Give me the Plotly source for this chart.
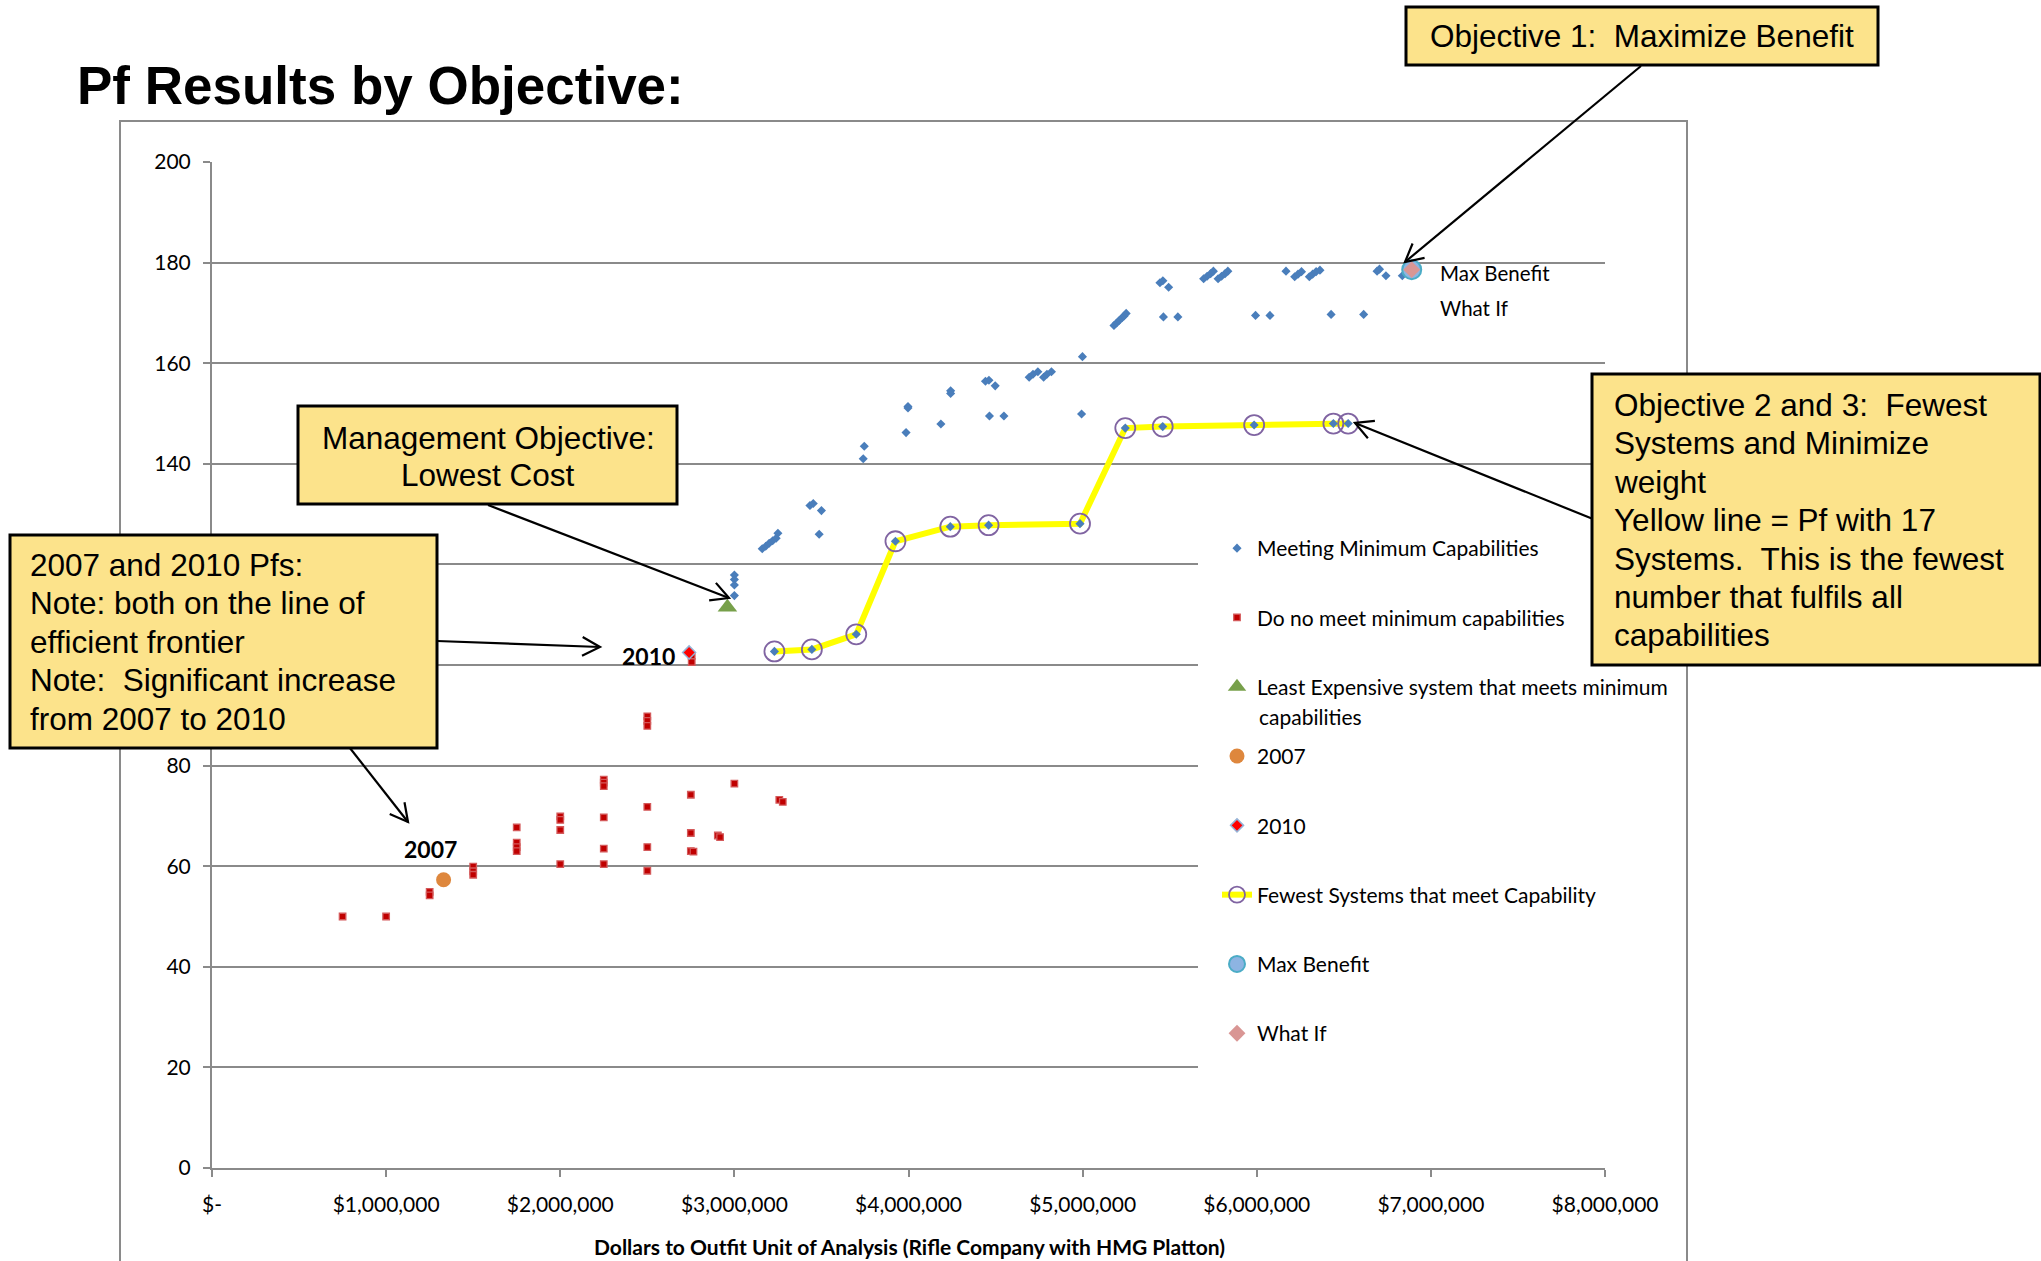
import math
import plotly.graph_objects as go

# ---------------- data ----------------
# Fewest systems that meet capability (yellow line, 17 systems)
FEWEST_X = [3230000, 3445000, 3700000, 3925000, 4240000, 4460000, 4985000,
            5245000, 5460000, 5985000, 6440000, 6525000]
FEWEST_Y = [102.7, 103.1, 106.1, 124.6, 127.5, 127.8, 128.1,
            147.1, 147.4, 147.7, 148.0, 148.0]

# Meeting minimum capabilities (other than those on the yellow line)
MEET_X = [3000000, 3000000, 3000000, 3000000,
          3160000, 3180000, 3200000, 3220000, 3240000, 3250000,
          3434000, 3453000, 3500000, 3487000,
          3746000, 3740000,
          3986000, 3997000, 3997000,
          4186000, 4242000, 4242000,
          4442000, 4462000, 4498000, 4465000, 4548000,
          4693000, 4715000, 4743000, 4776000, 4795000, 4821000,
          4999000, 4994000,
          5180000, 5195000, 5210000, 5225000, 5238000, 5250000,
          5444000, 5461000, 5494000, 5464000, 5547000,
          5695000, 5715000, 5735000, 5751000, 5778000, 5798000, 5818000, 5834000,
          5993000, 6076000,
          6168000, 6218000, 6237000, 6257000, 6302000, 6321000, 6341000, 6363000,
          6427000, 6614000,
          6691000, 6705000, 6742000, 6836000]
MEET_Y = [117.9, 117.0, 115.9, 113.8,
          123.1, 123.6, 124.2, 124.7, 125.2, 126.2,
          131.7, 132.1, 130.7, 126.0,
          143.5, 141.0,
          146.2, 151.4, 151.1,
          147.9, 154.5, 154.0,
          156.4, 156.6, 155.5, 149.5, 149.5,
          157.2, 157.8, 158.3, 157.2, 157.8, 158.3,
          161.3, 149.9,
          167.5, 168.0, 168.5, 169.0, 169.4, 169.9,
          176.0, 176.4, 175.1, 169.2, 169.2,
          176.8, 177.3, 177.8, 178.3, 176.8, 177.3, 177.8, 178.3,
          169.5, 169.5,
          178.3, 177.2, 177.7, 178.2, 177.2, 177.7, 178.2, 178.5,
          169.7, 169.7,
          178.3, 178.7, 177.4, 177.4]

# Do not meet minimum capabilities
NOMEET_X = [750000, 1000000, 1250000, 1250000,
            1500000, 1500000, 1500000,
            1750000, 1750000, 1750000, 1750000,
            2000000, 2000000, 2000000, 2000000,
            2250000, 2250000, 2250000, 2250000, 2250000, 2250000,
            2500000, 2500000, 2500000, 2500000, 2500000, 2500000,
            2750000, 2750000, 2750000, 2765000,
            2905000, 2918000, 3000000, 3258000, 3278000,
            2755000, 2755000]
NOMEET_Y = [50.0, 50.0, 54.9, 54.2,
            59.9, 59.0, 58.3,
            67.7, 64.7, 63.8, 63.0,
            69.9, 69.2, 67.2, 60.4,
            77.2, 76.6, 75.9, 69.7, 63.5, 60.4,
            89.8, 88.9, 87.9, 71.8, 63.8, 59.1,
            74.2, 66.6, 63.0, 62.9,
            66.1, 65.8, 76.4, 73.2, 72.8,
            101.8, 100.6]

LEAST_X, LEAST_Y = [2960000], [111.5]
Y2007_X, Y2007_Y = [1330000], [57.3]
Y2010_X, Y2010_Y = [2740000], [102.5]
MAXB_X, MAXB_Y = [6890000], [178.6]
WHATIF_X, WHATIF_Y = [6890000], [178.6]

X_TICKS = [0, 1000000, 2000000, 3000000, 4000000, 5000000, 6000000, 7000000, 8000000]
X_TICK_LABELS = ["$-", "$1,000,000", "$2,000,000", "$3,000,000", "$4,000,000",
                 "$5,000,000", "$6,000,000", "$7,000,000", "$8,000,000"]
Y_TICKS = [0, 20, 40, 60, 80, 100, 120, 140, 160, 180, 200]
# 100 and 120 are hidden behind the callout box in the original
Y_TICK_LABELS = ["0", "20", "40", "60", "80", "", "", "140", "160", "180", "200"]

# ---------------- layout geometry ----------------
W, H = 2041, 1261
L, R, T, B = 212, 436, 162, 93
PW, PH = W - L - R, H - T - B


def px(x):
    return (x - L) / PW


def py(y):
    return (H - B - y) / PH


CAL = "Lato, 'Open Sans', sans-serif"
ARI = "'Liberation Sans', Arial, sans-serif"
GRAY = "#8A8A8A"
BOXFILL = "#FCE38B"

fig = go.Figure()

fig.add_trace(go.Scatter(
    x=FEWEST_X, y=FEWEST_Y, mode="lines+markers",
    name="Fewest Systems that meet Capability",
    line=dict(color="#FFFF00", width=6),
    marker=dict(symbol="circle-open", size=20, color="#8064A2", line=dict(width=1.8)),
    legendrank=6, legendgroup="g6"))

fig.add_trace(go.Scatter(
    x=MEET_X + FEWEST_X, y=MEET_Y + FEWEST_Y, mode="markers",
    name="Meeting Minimum Capabilities",
    marker=dict(symbol="diamond", size=7, color="#4A7EBB", line=dict(width=0)),
    legendrank=1, legendgroup="g1"))

fig.add_trace(go.Scatter(
    x=NOMEET_X, y=NOMEET_Y, mode="markers",
    name="Do no meet minimum capabilities",
    marker=dict(symbol="square", size=6.5, color="#C00000", line=dict(width=1.3, color="#D4595A")),
    legendrank=2, legendgroup="g2"))

fig.add_trace(go.Scatter(
    x=LEAST_X, y=LEAST_Y, mode="markers",
    name="Least Expensive system that meets minimum",
    marker=dict(symbol="triangle-up", size=17, color="#77A04A", line=dict(width=0)),
    legendrank=3, legendgroup="g3"))

fig.add_trace(go.Scatter(
    x=Y2007_X, y=Y2007_Y, mode="markers", name="2007",
    marker=dict(symbol="circle", size=15, color="#DE873D", line=dict(width=0)),
    legendrank=4, legendgroup="g4"))

fig.add_trace(go.Scatter(
    x=Y2010_X, y=Y2010_Y, mode="markers", name="2010",
    marker=dict(symbol="diamond", size=10, color="#FF0000", line=dict(width=1.5, color="#95B3D7")),
    legendrank=5, legendgroup="g5"))

fig.add_trace(go.Scatter(
    x=MAXB_X, y=MAXB_Y, mode="markers", name="Max Benefit",
    marker=dict(symbol="circle", size=19, color="#8DB4E2", line=dict(width=2, color="#4BACC6")),
    legendrank=7, legendgroup="g7"))

fig.add_trace(go.Scatter(
    x=WHATIF_X, y=WHATIF_Y, mode="markers", name="What If",
    marker=dict(symbol="diamond", size=13, color="#D99694", line=dict(width=0)),
    legendrank=8, legendgroup="g8"))

# ---------------- shapes ----------------
shapes = []
# outer chart-area border
shapes.append(dict(type="rect", xref="paper", yref="paper", layer="below",
                   x0=px(120), x1=px(1687), y0=py(121), y1=py(1266),
                   line=dict(color=GRAY, width=2), fillcolor="rgba(0,0,0,0)"))
# legend background (hides grid lines behind the legend)
shapes.append(dict(type="rect", xref="paper", yref="paper", layer="above",
                   x0=px(1198), x1=px(1684), y0=py(514), y1=py(1080),
                   line=dict(width=0), fillcolor="white"))


def box(x0, y0, x1, y1):
    shapes.append(dict(type="rect", xref="paper", yref="paper", layer="above",
                       x0=px(x0), x1=px(x1), y0=py(y0), y1=py(y1),
                       line=dict(color="black", width=3), fillcolor=BOXFILL))


def arrow(x0, y0, x1, y1, head=20, ang=28):
    shapes.append(dict(type="line", xref="paper", yref="paper", layer="above",
                       x0=px(x0), y0=py(y0), x1=px(x1), y1=py(y1),
                       line=dict(color="black", width=2.2)))
    dx, dy = x1 - x0, y1 - y0
    ln = math.hypot(dx, dy)
    ux, uy = -dx / ln, -dy / ln
    pts = []
    for s in (1, -1):
        a = math.radians(ang) * s
        rx = ux * math.cos(a) - uy * math.sin(a)
        ry = ux * math.sin(a) + uy * math.cos(a)
        pts.append((x1 + head * rx, y1 + head * ry))
    path = "M {} {} L {} {} L {} {}".format(px(pts[0][0]), py(pts[0][1]), px(x1), py(y1),
                                            px(pts[1][0]), py(pts[1][1]))
    shapes.append(dict(type="path", xref="paper", yref="paper", layer="above", path=path,
                       line=dict(color="black", width=2.2)))


arrow(1641, 66, 1405, 262)
arrow(488, 505, 729, 598)
arrow(437, 641, 600, 647)
arrow(346, 743, 408, 822)
arrow(1593, 519, 1355, 423)

box(1406, 7, 1878, 65)
box(298, 406, 677, 504)
box(10, 535, 437, 748)
box(1592, 374, 2040, 665)

# ---------------- annotations ----------------
ann = []


def text(x, y, s, size=31.5, anchor="left", family=ARI, color="black"):
    ann.append(dict(xref="paper", yref="paper", x=px(x), y=py(y), text=s, showarrow=False,
                    xanchor=anchor, yanchor="middle", font=dict(family=family, size=size, color=color)))


NB = "\u00a0"
text(75, 86, "<b>Pf Results by Objective:</b>", size=53)
text(1642, 36, "Objective 1:" + NB + " Maximize Benefit", anchor="center")
text(488, 438, "Management Objective:", anchor="center")
text(488, 475, "Lowest Cost", anchor="center")
for i, s in enumerate(["2007 and 2010 Pfs:", "Note: both on the line of", "efficient frontier",
                       "Note:" + NB + " Significant increase", "from 2007 to 2010"]):
    text(28, 565 + i * 38.4, s)
for i, s in enumerate(["Objective 2 and 3:" + NB + " Fewest", "Systems and Minimize", "weight",
                       "Yellow line = Pf with 17", "Systems." + NB + " This is the fewest",
                       "number that fulfils all", "capabilities"]):
    text(1612, 405 + i * 38.4, s)

# second line of the "Least Expensive ..." legend entry
text(1257, 716, "capabilities", size=21, family=CAL)

# data labels
ann.append(dict(x=Y2010_X[0], y=Y2010_Y[0], xref="x", yref="y", text="<b>2010</b>", showarrow=False,
                xanchor="right", yanchor="middle", xshift=-12, yshift=-4,
                font=dict(family=CAL, size=23, color="black")))
ann.append(dict(x=Y2007_X[0], y=Y2007_Y[0], xref="x", yref="y", text="<b>2007</b>", showarrow=False,
                xanchor="center", yanchor="middle", xshift=-13, yshift=31,
                font=dict(family=CAL, size=23, color="black")))
ann.append(dict(x=MAXB_X[0], y=MAXB_Y[0], xref="x", yref="y", text="Max Benefit", showarrow=False,
                xanchor="left", yanchor="middle", xshift=26, yshift=-3,
                font=dict(family=CAL, size=20.5, color="black")))
ann.append(dict(x=WHATIF_X[0], y=WHATIF_Y[0], xref="x", yref="y", text="What If", showarrow=False,
                xanchor="left", yanchor="middle", xshift=26, yshift=-38,
                font=dict(family=CAL, size=20.5, color="black")))
# x axis title
text(909, 1246, "<b>Dollars to Outfit Unit of Analysis (Rifle Company with HMG Platton)</b>",
     size=21, anchor="center", family=CAL)

fig.update_layout(
    width=W, height=H,
    margin=dict(l=L, r=R, t=T, b=B, autoexpand=False),
    paper_bgcolor="white", plot_bgcolor="white",
    font=dict(family=CAL, size=21, color="black"),
    showlegend=True,
    legend=dict(x=px(1217), y=py(528), xanchor="left", yanchor="top",
                bgcolor="rgba(0,0,0,0)", font=dict(family=CAL, size=21, color="black"),
                traceorder="grouped", tracegroupgap=39, valign="middle"),
    shapes=shapes, annotations=ann,
    xaxis=dict(range=[0, 8000000], tickvals=X_TICKS, ticktext=X_TICK_LABELS,
               showgrid=False, zeroline=False, showline=True, linecolor=GRAY, linewidth=2,
               ticks="outside", ticklen=7, tickwidth=1.5, tickcolor=GRAY,
               ticklabelstandoff=10, tickfont=dict(family=CAL, size=21, color="black")),
    yaxis=dict(range=[0, 200], tickvals=Y_TICKS, ticktext=Y_TICK_LABELS,
               showgrid=True, gridcolor=GRAY, gridwidth=2,
               zeroline=False, showline=True, linecolor=GRAY, linewidth=2,
               ticks="outside", ticklen=7, tickwidth=1.5, tickcolor=GRAY,
               ticklabelstandoff=8, tickfont=dict(family=CAL, size=21, color="black")),
)

fig.write_html("out.html", config={"displayModeBar": False},
               post_script="document.body.style.margin='0px';")
